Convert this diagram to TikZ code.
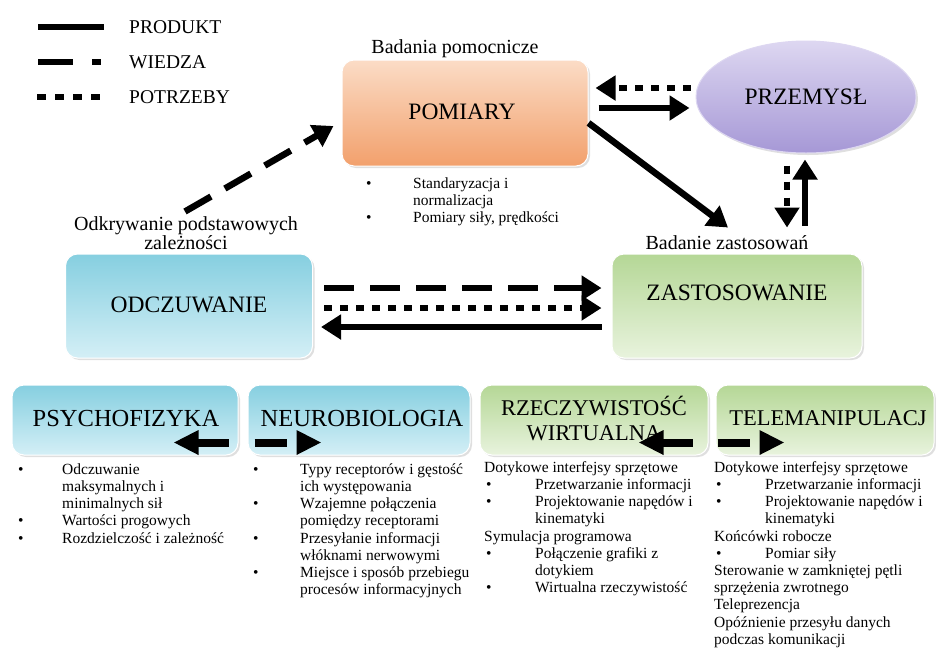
\documentclass[tikz,border=0pt]{standalone}
\usepackage{fontspec}
\setmainfont{Liberation Serif}
\usetikzlibrary{arrows.meta,shapes.geometric,calc,shadows}
\definecolor{pomT}{HTML}{FBDCC6}
\definecolor{pomB}{HTML}{F2A06C}
\definecolor{przT}{HTML}{DDD7F1}
\definecolor{przB}{HTML}{A698D6}
\definecolor{bluT}{HTML}{86CFE0}
\definecolor{bluB}{HTML}{D4EFF6}
\definecolor{grnT}{HTML}{B5D796}
\definecolor{grnB}{HTML}{E8F3DD}
\tikzset{
  box/.style={rounded corners=12pt, inner sep=0pt, draw=white, line width=1pt,
    drop shadow={opacity=0.25, shadow xshift=2pt, shadow yshift=-2pt}},
  bluebox/.style={box, top color=bluT, bottom color=bluB},
  greenbox/.style={box, top color=grnT, bottom color=grnB},
  prod/.style={line width=6.5pt, -{Triangle[length=20pt,width=24pt]}},
  wiedza/.style={prod, dash pattern=on 30pt off 16pt},
  potrz/.style={prod, dash pattern=on 8pt off 8pt},
  prodS/.style={line width=8pt, -{Triangle[length=25pt,width=23pt]}},
  wiedzaS/.style={prodS, dash pattern=on 32pt off 30pt},
  leg/.style={font=\fontsize{19.5}{22}\selectfont, anchor=west, inner sep=0pt},
  sub/.style={font=\fontsize{20}{20}\selectfont, inner sep=0pt, align=center},
  big/.style={font=\fontsize{23.5}{26}\selectfont, inner sep=0pt, align=center},
  lst/.style={font=\fontsize{15.5}{17.2}\selectfont, inner sep=0pt, anchor=north west},
}
\begin{document}
\begin{tikzpicture}[x=1pt,y=-1pt]
\path[use as bounding box, fill=white] (0,0) rectangle (936,649);

% legend
\coordinate (la1) at (38,27);  \coordinate (la2) at (104,27);
\coordinate (lb1) at (38,62);  \coordinate (lb2) at (103,62);
\coordinate (lc1) at (37,97);  \coordinate (lc2) at (101,97);
\draw[line width=6.5pt] (la1) -- (la2);
\draw[line width=6.5pt, dash pattern=on 35pt off 19pt on 9pt off 20pt] (lb1) -- (lb2);
\draw[line width=6.5pt, dash pattern=on 9pt off 9pt] (lc1) -- (lc2);
\node[leg] (tl1) at (129,27) {PRODUKT};
\node[leg] (tl2) at (129,62) {WIEDZA};
\node[leg] (tl3) at (129,97) {POTRZEBY};

% main nodes
\node[box, top color=pomT, bottom color=pomB, minimum width=246pt, minimum height=106pt] (pom) at (465,113) {};
\node[big] (pomt) at (462,112) {POMIARY};
\node[ellipse, inner sep=0pt, draw=przT, line width=1pt, top color=przT, bottom color=przB,
  minimum width=220pt, minimum height=112pt,
  drop shadow={opacity=0.25, shadow xshift=2pt, shadow yshift=-2pt}] (prz) at (806,97) {};
\node[big] (przt) at (806,97) {PRZEMYSŁ};
\node[greenbox, minimum width=250pt, minimum height=104pt] (zas) at (737,306) {};
\node[big] (zast) at (737,293) {ZASTOSOWANIE};
\node[bluebox, minimum width=247pt, minimum height=104pt] (odc) at (189,306) {};
\node[big] (odct) at (189,305) {ODCZUWANIE};

\node[sub] (bp) at (455,49) {Badania pomocnicze};
\node[sub] (ok) at (186,233) {Odkrywanie podstawowych\\[-1pt]zależności};
\node[sub] (bz) at (727,243) {Badanie zastosowań};

% POMIARY bullets
\node[lst] (pl) at (364,176) {%
\begin{tabular}{@{}p{49pt}@{}l@{}}
\hspace{2pt}• & Standaryzacja i\\
 & normalizacja\\
\hspace{2pt}• & Pomiary siły, prędkości
\end{tabular}};

% main arrows
\draw[potrz] ($(prz.west)+(-5,-9)$) -- ($(pom.east)+(7,-25)$);
\draw[prod] ($(pom.east)+(10,-5)$) -- ($(prz.west)+(-6,11)$);
\draw[prod] ($(pom.east)+(0,10)$) -- ($(zas.north)+(-9,-26)$);
\draw[potrz] ($(prz.south)+(-19,12)$) -- ($(zas.north)+(50,-26)$);
\draw[prod] ($(zas.north)+(68,-28)$) -- ($(prz.south)+(-1,6)$);
\draw[wiedza] ($(odc.north)+(-4,-42)$) -- ($(pom.west)+(-8,13)$);
\draw[wiedza] ($(odc.east)+(11,-18)$) -- ($(zas.west)+(-10,-18)$);
\draw[potrz] ($(odc.east)+(11,2)$) -- ($(zas.west)+(-10,2)$);
\draw[prod] ($(zas.west)+(-10,21)$) -- ($(odc.east)+(8,21)$);

% bottom boxes
\node[bluebox, minimum width=226pt, minimum height=70pt] (psy) at (125,420) {};
\node[font=\fontsize{24.5}{26}\selectfont, inner sep=0pt] (psyt) at (126,418) {PSYCHOFIZYKA};
\node[bluebox, minimum width=222pt, minimum height=70pt] (neu) at (359,420) {};
\node[font=\fontsize{24.5}{26}\selectfont, inner sep=0pt] (neut) at (362,418) {NEUROBIOLOGIA};
\node[greenbox, minimum width=228pt, minimum height=70pt] (rze) at (594,420) {};
\node[font=\fontsize{22.5}{25}\selectfont, inner sep=0pt, align=center] (rzet) at (594,419) {RZECZYWISTOŚĆ\\WIRTUALNA};
\node[greenbox, minimum width=218pt, minimum height=70pt] (tel) at (825,420) {};
\node[font=\fontsize{22.5}{25}\selectfont, inner sep=0pt] (telt) at (828,418) {TELEMANIPULACJ};

\draw[prodS] ($(psy.south east)+(-10,-13)$) -- ($(psy.south east)+(-65,-13)$);
\draw[wiedzaS] ($(neu.south west)+(7,-13)$) -- ($(neu.south west)+(74,-13)$);
\draw[prodS] ($(rze.south east)+(-16,-13)$) -- ($(rze.south east)+(-70,-13)$);
\draw[wiedzaS] ($(tel.south west)+(2,-13)$) -- ($(tel.south west)+(69,-13)$);

% lists
\node[lst] (l1) at (15,462) {%
\begin{tabular}{@{}p{47pt}@{}l@{}}
\hspace{3pt}• & Odczuwanie\\
 & maksymalnych i\\
 & minimalnych sił\\
\hspace{3pt}• & Wartości progowych\\
\hspace{3pt}• & Rozdzielczość i zależność
\end{tabular}};
\node[lst] (l2) at (250,462) {%
\begin{tabular}{@{}p{50pt}@{}l@{}}
\hspace{3pt}• & Typy receptorów i gęstość\\
 & ich występowania\\
\hspace{3pt}• & Wzajemne połączenia\\
 & pomiędzy receptorami\\
\hspace{3pt}• & Przesyłanie informacji\\
 & włóknami nerwowymi\\
\hspace{3pt}• & Miejsce i sposób przebiegu\\
 & procesów informacyjnych
\end{tabular}};
\node[lst] (l3) at (484,460) {%
\begin{tabular}{@{}p{51pt}@{}l@{}}
\multicolumn{2}{@{}l@{}}{Dotykowe interfejsy sprzętowe}\\
\hspace{2pt}• & Przetwarzanie informacji\\
\hspace{2pt}• & Projektowanie napędów i\\
 & kinematyki\\
\multicolumn{2}{@{}l@{}}{Symulacja programowa}\\
\hspace{2pt}• & Połączenie grafiki z\\
 & dotykiem\\
\hspace{2pt}• & Wirtualna rzeczywistość
\end{tabular}};
\node[lst] (l4) at (714,460) {%
\begin{tabular}{@{}p{51pt}@{}l@{}}
\multicolumn{2}{@{}l@{}}{Dotykowe interfejsy sprzętowe}\\
\hspace{2pt}• & Przetwarzanie informacji\\
\hspace{2pt}• & Projektowanie napędów i\\
 & kinematyki\\
\multicolumn{2}{@{}l@{}}{Końcówki robocze}\\
\hspace{2pt}• & Pomiar siły\\
\multicolumn{2}{@{}l@{}}{Sterowanie w zamkniętej pętli}\\
\multicolumn{2}{@{}l@{}}{sprzężenia zwrotnego}\\
\multicolumn{2}{@{}l@{}}{Teleprezencja}\\
\multicolumn{2}{@{}l@{}}{Opóźnienie przesyłu danych}\\
\multicolumn{2}{@{}l@{}}{podczas komunikacji}
\end{tabular}};
\end{tikzpicture}
\end{document}
